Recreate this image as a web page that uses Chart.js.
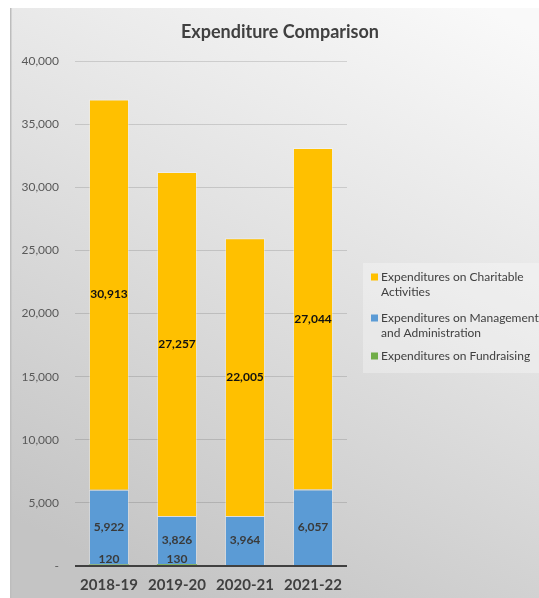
<!DOCTYPE html>
<html>
<head>
<meta charset="utf-8">
<script src="https://cdn.jsdelivr.net/npm/chart.js@4"></script>
<style>
html,body{margin:0;padding:0;background:#fff;}
#wrap{width:539px;height:598px;}
</style>
</head>
<body>
<div id="wrap"><canvas id="c" width="539" height="598"></canvas></div>
<script>
const categories = ['2018-19', '2019-20', '2020-21', '2021-22'];
const fundraising = [120, 130, null, null];
const management = [5922, 3826, 3964, 6057];
const charitable = [30913, 27257, 22005, 27044];
const yTicks = [0, 5000, 10000, 15000, 20000, 25000, 30000, 35000, 40000];
const seriesNames = ['Expenditures on Fundraising', 'Expenditures on Management and Administration', 'Expenditures on Charitable Activities'];
const legendLines = [['Expenditures on Charitable', 'Activities'], ['Expenditures on Management', 'and Administration'], ['Expenditures on Fundraising']];
const titleText = 'Expenditure Comparison';

const FONT = 'Lato, "Open Sans", sans-serif';
const colors = ['#70ad47', '#5b9bd5', '#ffc000'];

const bgPlugin = {
  id: 'bg',
  beforeDraw(chart) {
    const ctx = chart.ctx;
    ctx.save();
    ctx.fillStyle = '#ffffff';
    ctx.fillRect(0, 0, chart.width, chart.height);
    const g = ctx.createLinearGradient(470, 0, 170, 598);
    g.addColorStop(0, '#f9f9f9');
    g.addColorStop(0.45, '#e2e2e2');
    g.addColorStop(1, '#c4c4c4');
    ctx.fillStyle = g;
    ctx.fillRect(11, 8, chart.width - 11, chart.height - 8);
    ctx.fillStyle = '#bdbdbd';
    ctx.fillRect(10, 8, 1.5, chart.height - 8);
    // legend box
    ctx.fillStyle = 'rgba(255,255,255,0.3)';
    ctx.fillRect(363, 263, chart.width - 363, 110);
    ctx.restore();
  },
  afterDraw(chart) {
    const ctx = chart.ctx;
    ctx.save();
    // title
    ctx.fillStyle = '#404040';
    ctx.font = 'bold 18px ' + FONT;
    ctx.textAlign = 'center';
    ctx.textBaseline = 'middle';
    ctx.fillText(titleText, 280, 32);
    // legend
    ctx.font = '12px ' + FONT;
    ctx.textAlign = 'left';
    const legendColors = [colors[2], colors[1], colors[0]];
    const tops = [277, 318, 356];
    legendLines.forEach((lines, i) => {
      ctx.fillStyle = legendColors[i];
      ctx.fillRect(371, tops[i] - 3.5, 7, 7);
      ctx.fillStyle = '#404040';
      lines.forEach((ln, j) => ctx.fillText(ln, 381, tops[i] + j * 15));
    });
    ctx.restore();
  }
};

const labelPlugin = {
  id: 'vals',
  afterDatasetsDraw(chart) {
    const ctx = chart.ctx;
    ctx.save();
    ctx.textAlign = 'center';
    ctx.textBaseline = 'middle';
    ctx.font = 'bold 12px ' + FONT;
    chart.data.datasets.forEach((ds, di) => {
      const meta = chart.getDatasetMeta(di);
      meta.data.forEach((el, i) => {
        const v = ds.data[i];
        if (v === null || v === undefined) return;
        const p = el.getProps(['x', 'y', 'base'], true);
        let cy = (p.y + p.base) / 2;
        if (di === 0) cy = p.base - 6;
        ctx.fillStyle = di === 2 ? '#111111' : '#3a3a3a';
        ctx.fillText(v.toLocaleString('en-US'), p.x, cy);
      });
    });
    ctx.restore();
  }
};

new Chart(document.getElementById('c'), {
  type: 'bar',
  data: {
    labels: categories,
    datasets: [
      { label: seriesNames[0], data: fundraising, backgroundColor: colors[0], borderWidth: 0 },
      { label: seriesNames[1], data: management, backgroundColor: colors[1], borderColor: 'rgba(255,255,255,0.35)', borderWidth: 1 },
      { label: seriesNames[2], data: charitable, backgroundColor: colors[2], borderColor: 'rgba(255,255,255,0.35)', borderWidth: 1 }
    ]
  },
  options: {
    responsive: false,
    animation: false,
    devicePixelRatio: 1,
    layout: { padding: { left: 10, right: 192, top: 61, bottom: 0 } },
    datasets: { bar: { categoryPercentage: 1, barPercentage: 0.59 } },
    plugins: {
      legend: { display: false },
      title: { display: false },
      tooltip: { enabled: false }
    },
    scales: {
      x: {
        stacked: true,
        grid: { display: false, drawTicks: false },
        border: { display: false },
        ticks: { padding: 10, color: '#404040', font: { family: FONT, size: 15, weight: 'bold' } },
        afterFit(s) { s.height = 32; }
      },
      y: {
        stacked: true,
        min: 0,
        max: 40000,
        afterBuildTicks(s) { s.ticks = yTicks.map(v => ({ value: v })); },
        grid: {
          drawTicks: false,
          color: ctx => ctx.tick && ctx.tick.value === 0 ? '#404040' : 'rgba(0,0,0,0.13)',
          lineWidth: ctx => ctx.tick && ctx.tick.value === 0 ? 2 : 1
        },
        border: { display: false },
        ticks: {
          padding: 16,
          color: '#595959',
          font: { family: FONT, size: 12 },
          callback: v => v === 0 ? '-' : v.toLocaleString('en-US')
        },
        afterFit(s) { s.width = 65; }
      }
    }
  },
  plugins: [bgPlugin, labelPlugin]
});
</script>
</body>
</html>
